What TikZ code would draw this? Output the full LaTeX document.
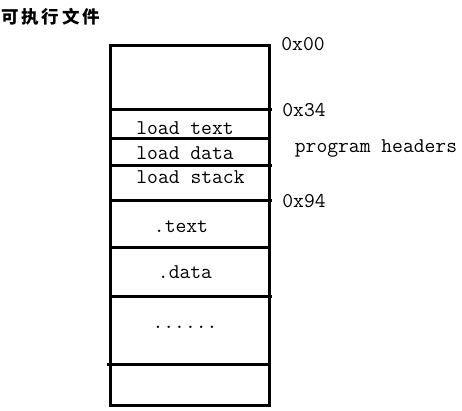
\documentclass[tikz,border=0pt]{standalone}
\usepackage{fontspec}
\newfontfamily\cjk[LetterSpace=16]{Noto Sans CJK SC}
\begin{document}
\begin{tikzpicture}[x=1pt,y=-1pt,
  lbl/.style={font=\ttfamily\fontsize{21}{22}\selectfont, inner sep=0pt, anchor=center},
  wall/.style={line width=3pt}]
\useasboundingbox[fill=white] (0,0) rectangle (462,411);
% title
\node[font=\cjk\bfseries\fontsize{17.5}{19}\selectfont, anchor=west, inner sep=0pt] (title) at (1,17) {可执行文件};
% outer box
\draw[wall] (110,46) rectangle (269,405);
% dividers
\coordinate (d1l) at (110,109.5); \coordinate (d1r) at (272,109.5);
\coordinate (d2l) at (110,139);   \coordinate (d2r) at (269,139);
\coordinate (d3l) at (110,166);   \coordinate (d3r) at (272,166);
\coordinate (d4l) at (110,201);   \coordinate (d4r) at (272,201);
\coordinate (d5l) at (110,247);   \coordinate (d5r) at (269,247);
\coordinate (d6l) at (110,296);   \coordinate (d6r) at (272,296);
\coordinate (d7l) at (107,364);   \coordinate (d7r) at (269,364);
\foreach \i in {1,...,7} \draw[wall] (d\i l) -- (d\i r);
% labels inside
\node[lbl] (ltext) at (185,128) {load text};
\node[lbl] (ldata) at (185,153) {load data};
\node[lbl] (lstack) at (190.5,177) {load stack};
\node[lbl] (stext) at (181,227) {.text};
\node[lbl] (sdata) at (185,272) {.data};
\node[lbl] (dots) at (185,327) {......};
% addresses
\node[lbl] (a00) at (303,44) {0x00};
\node[lbl] (a34) at (304,110) {0x34};
\node[lbl] (a94) at (304,201) {0x94};
\node[lbl] (ph) at (376,148) {program headers};
\end{tikzpicture}
\end{document}
